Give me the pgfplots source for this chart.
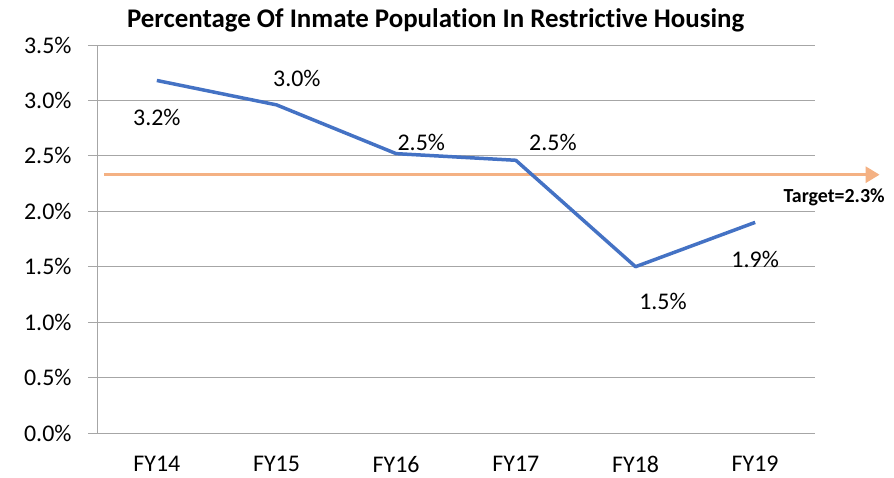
\documentclass[border=0pt]{standalone}
\usepackage{pgfplots}
\pgfplotsset{compat=1.18}
\usepackage{fontspec}
\setmainfont{Carlito}[Ligatures=NoCommon]
\usetikzlibrary{arrows.meta}
\definecolor{lineblue}{HTML}{4472C4}
\definecolor{targetorange}{HTML}{F4B183}
\definecolor{gridgray}{HTML}{A6A6A6}
\begin{document}
\begin{tikzpicture}
\begin{axis}[
  scale only axis,
  width=718bp, height=388bp,
  xmin=-0.5, xmax=5.5,
  ymin=0, ymax=3.5,
  clip=false,
  axis x line*=bottom,
  axis y line*=left,
  axis line style={gridgray, line width=1pt},
  xtick={0,1,2,3,4,5},
  xticklabels={FY14,FY15,FY16,FY17,FY18,FY19},
  x tick style={draw=none},
  extra x ticks={-0.5,0.5,1.5,2.5,3.5,4.5,5.5},
  extra x tick labels={},
  extra x tick style={major tick length=8bp, tick align=outside, tick style={gridgray, line width=1pt, draw=gridgray}, grid=none},
  ytick={0,0.5,1,1.5,2,2.5,3,3.5},
  yticklabels={0.0\%,0.5\%,1.0\%,1.5\%,2.0\%,2.5\%,3.0\%,3.5\%},
  y tick style={gridgray, line width=1pt},
  major tick length=9bp,
  tick align=outside,
  ymajorgrids,
  grid style={gridgray, line width=1pt},
  tick label style={font=\fontsize{24}{28}\selectfont, text=black},
  yticklabel style={xshift=-13bp},
  xticklabel style={yshift=-13bp, inner sep=1pt},
  /pgf/number format/assume math mode=true,
]
\addplot[targetorange, line width=3pt, -{Triangle[length=14bp,width=16bp]}, forget plot]
  coordinates {(-0.44,2.33) (6.04,2.33)};
\addplot[lineblue, line width=3.5pt, mark=none, line join=round]
  coordinates {(0,3.18) (1,2.96) (2,2.52) (3,2.46) (4,1.50) (5,1.90)};
\node[font=\fontsize{24}{28}\selectfont] at (axis cs:0.0,2.85) {3.2\%};
\node[font=\fontsize{24}{28}\selectfont] at (axis cs:1.17,3.20) {3.0\%};
\node[font=\fontsize{24}{28}\selectfont] at (axis cs:2.21,2.62) {2.5\%};
\node[font=\fontsize{24}{28}\selectfont] at (axis cs:3.31,2.62) {2.5\%};
\node[font=\fontsize{24}{28}\selectfont] at (axis cs:4.23,1.19) {1.5\%};
\node[font=\fontsize{24}{28}\selectfont] at (axis cs:5.0,1.57) {1.9\%};
\node[font=\bfseries\fontsize{20}{23}\selectfont] at (axis cs:5.66,2.13) {Target=2.3\%};
\node[font=\bfseries\fontsize{27}{30}\selectfont] at (axis cs:2.33,3.72) {Percentage Of Inmate Population In Restrictive Housing};
\end{axis}
\pgfresetboundingbox
\path (current axis.south west) ++(-97bp,-45bp) rectangle ++(894bp,478bp);
\end{tikzpicture}
\end{document}
